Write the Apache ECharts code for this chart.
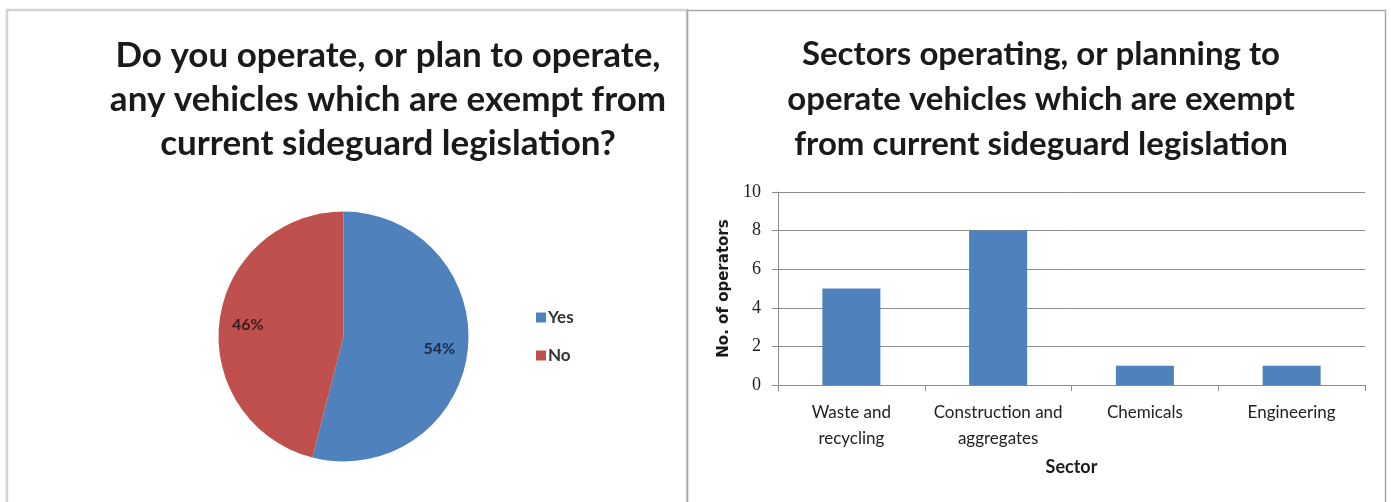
<!DOCTYPE html>
<html>
<head>
<meta charset="utf-8">
<script src="https://cdn.jsdelivr.net/npm/echarts@6/dist/echarts.min.js"></script>
<style>
  html, body { margin: 0; padding: 0; background: #ffffff; }
  #chart { width: 1391px; height: 502px; }
</style>
</head>
<body>
<div id="chart"></div>
<script>
// Survey answers: share of operators running exempt vehicles
const answerNames = ['Yes', 'No'];
const answerShares = [54, 46];
const answerColors = ['#4f81bd', '#c0504d'];
const answerLabelColors = ['#1c2b4a', '#3a1d1c'];

// Sector breakdown of those operators
const sectors = ['Waste and\nrecycling', 'Construction and\naggregates', 'Chemicals', 'Engineering'];
const operatorCounts = [5, 8, 1, 1];

const pieTitle = 'Do you operate, or plan to operate,\nany vehicles which are exempt from\ncurrent sideguard legislation?';
const barTitle = 'Sectors operating, or planning to\noperate vehicles which are exempt\nfrom current sideguard legislation';

const titleFont = 'Lato, "Open Sans", sans-serif';
const bodyFont = 'Lato, "Liberation Sans", sans-serif';

const pieData = answerNames.map((n, i) => ({
  name: n,
  value: answerShares[i],
  itemStyle: { color: answerColors[i] },
  label: { color: answerLabelColors[i] }
}));

const chart = echarts.init(document.getElementById('chart'), null, { renderer: 'canvas' });

chart.setOption({
  backgroundColor: '#ffffff',
  animation: false,
  graphic: [
    { type: 'rect', shape: { x: 7, y: 10, width: 680, height: 520 },
      style: { fill: 'none', stroke: '#d4d4d4', lineWidth: 2.5 }, z: 0 },
    { type: 'rect', shape: { x: 687.5, y: 10.5, width: 698, height: 520 },
      style: { fill: 'none', stroke: '#a6a6a6', lineWidth: 1.5 }, z: 0 }
  ],
  title: [
    { text: pieTitle, left: 383, top: 29, textAlign: 'center',
      textStyle: { fontFamily: titleFont, fontWeight: 'bold', fontSize: 35, lineHeight: 44, color: '#1a1a1a' } },
    { text: barTitle, left: 1036, top: 27, textAlign: 'center',
      textStyle: { fontFamily: titleFont, fontWeight: 'bold', fontSize: 33, lineHeight: 45, color: '#1a1a1a' } }
  ],
  legend: {
    orient: 'vertical',
    left: 531,
    top: 304,
    itemWidth: 10,
    itemHeight: 10,
    itemGap: 21,
    icon: 'rect',
    data: answerNames,
    textStyle: { fontFamily: bodyFont, fontSize: 17, fontWeight: 'bold', color: '#333333', padding: [0, 0, 0, -3] }
  },
  grid: { left: 778, right: 26, top: 192, bottom: 117 },
  xAxis: {
    type: 'category',
    data: sectors,
    name: 'Sector',
    nameLocation: 'middle',
    nameGap: 73,
    nameTextStyle: { fontFamily: bodyFont, fontWeight: 'bold', fontSize: 18, color: '#1a1a1a' },
    axisLine: { lineStyle: { color: '#8c8c8c', width: 1 } },
    axisTick: { show: true, length: 6, lineStyle: { color: '#8c8c8c' } },
    axisLabel: { fontFamily: bodyFont, fontSize: 17, lineHeight: 26, color: '#222222', margin: 15, interval: 0 }
  },
  yAxis: {
    type: 'value',
    min: 0,
    max: 10,
    interval: 2,
    name: 'No. of operators',
    nameLocation: 'middle',
    nameRotate: 90,
    nameGap: 46,
    nameTextStyle: { fontFamily: '"DejaVu Sans", Verdana, sans-serif', fontWeight: 'bold', fontSize: 15, color: '#1a1a1a' },
    axisLine: { show: true, lineStyle: { color: '#8c8c8c', width: 1 } },
    axisTick: { show: true, length: 6, lineStyle: { color: '#8c8c8c' } },
    axisLabel: { fontFamily: '"Liberation Serif", serif', fontSize: 18, color: '#222222', margin: 17 },
    splitLine: { lineStyle: { color: '#8c8c8c', width: 1 } }
  },
  series: [
    {
      type: 'pie',
      center: [343.5, 336.5],
      radius: [0, 125],
      startAngle: 90,
      clockwise: true,
      data: pieData,
      label: { show: false },
      labelLine: { show: false },
      itemStyle: { borderWidth: 0 },
      silent: true
    },
    {
      // transparent ring carrying the percentage labels further out from the centre
      type: 'pie',
      center: [343.5, 336.5],
      radius: [62, 125],
      startAngle: 90,
      clockwise: true,
      data: pieData.map(d => ({ name: d.name, value: d.value, label: d.label })),
      itemStyle: { color: 'rgba(0,0,0,0)' },
      label: {
        show: true,
        position: 'inside',
        formatter: '{d}%',
        fontFamily: bodyFont,
        fontSize: 16,
        fontWeight: 'bold'
      },
      labelLine: { show: false },
      silent: true,
      legendHoverLink: false
    },
    {
      type: 'bar',
      data: operatorCounts,
      barWidth: 58,
      itemStyle: { color: '#4f81bd' }
    }
  ]
});
</script>
</body>
</html>
